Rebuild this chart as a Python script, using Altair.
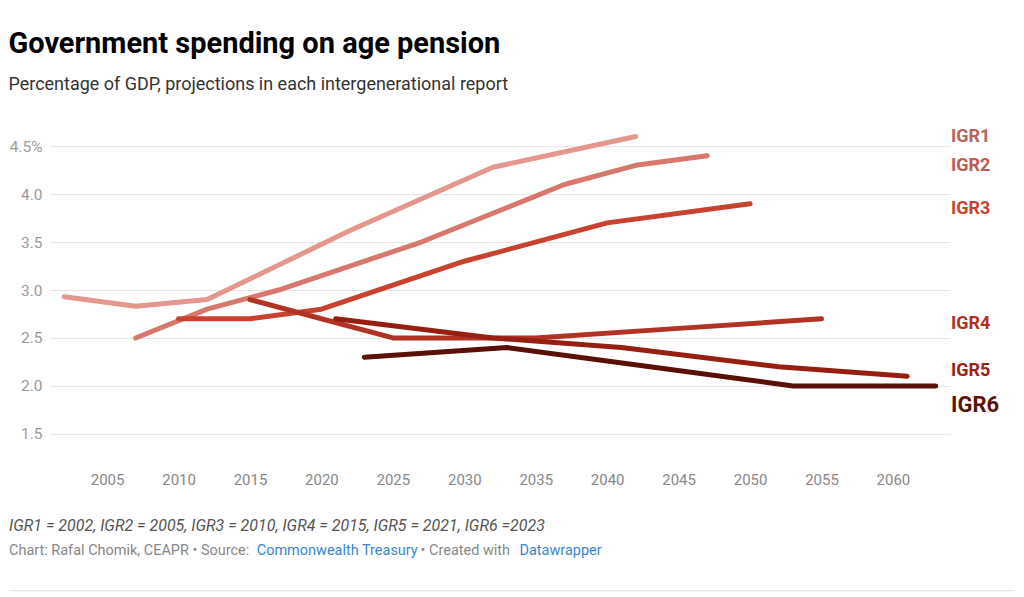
import altair as alt
import pandas as pd

# ---------------- data ----------------
series_names = ["IGR1", "IGR2", "IGR3", "IGR4", "IGR5", "IGR6"]

igr1_years = [2002, 2007, 2012, 2022, 2032, 2042]
igr1_vals = [2.93, 2.83, 2.90, 3.62, 4.28, 4.60]

igr2_years = [2007, 2012, 2015, 2017, 2027, 2037, 2042, 2047]
igr2_vals = [2.50, 2.80, 2.92, 3.00, 3.50, 4.10, 4.30, 4.40]

igr3_years = [2010, 2015, 2020, 2030, 2040, 2050]
igr3_vals = [2.70, 2.70, 2.80, 3.30, 3.70, 3.90]

igr4_years = [2015, 2020, 2025, 2035, 2045, 2055]
igr4_vals = [2.90, 2.70, 2.50, 2.50, 2.60, 2.70]

igr5_years = [2021, 2032, 2041, 2052, 2061]
igr5_vals = [2.70, 2.50, 2.40, 2.20, 2.10]

igr6_years = [2023, 2033, 2043, 2053, 2063]
igr6_vals = [2.30, 2.40, 2.20, 2.00, 2.00]

x_ticks = [2005, 2010, 2015, 2020, 2025, 2030, 2035, 2040, 2045, 2050, 2055, 2060]
y_ticks = [1.5, 2.0, 2.5, 3.0, 3.5, 4.0, 4.5]

title_text = "Government spending on age pension"
subtitle_text = "Percentage of GDP, projections in each intergenerational report"
note_text = "IGR1 = 2002, IGR2 = 2005, IGR3 = 2010, IGR4 = 2015, IGR5 = 2021, IGR6 =2023"
source_parts = ["Chart: Rafal Chomik, CEAPR \u2022 Source: ", "Commonwealth Treasury",
                " \u2022 Created with ", "Datawrapper"]

# ---------------- styles ----------------
line_colors = ["#e3978d", "#d8786c", "#c9412f", "#b23323", "#971f12", "#5a0f07"]
label_colors = ["#b5645e", "#bd5b52", "#c9412f", "#b03120", "#9a2214", "#5d1208"]
label_dy = [0, 10, 5, 5, -5, 19]
label_size = [18, 18, 18, 18, 18, 22]

all_years = [igr1_years, igr2_years, igr3_years, igr4_years, igr5_years, igr6_years]
all_vals = [igr1_vals, igr2_vals, igr3_vals, igr4_vals, igr5_vals, igr6_vals]

rows = []
for name, yrs, vals in zip(series_names, all_years, all_vals):
    for yr, v in zip(yrs, vals):
        rows.append({"series": name, "year": yr, "value": v})
df = pd.DataFrame(rows)

W, H = 901, 288
FONT = "Roboto"

x_scale = alt.Scale(domain=[2001, 2064], nice=False, zero=False)
y_scale = alt.Scale(domain=[1.5, 4.5], nice=False, zero=False)

lines = alt.Chart(df).mark_line(
    strokeWidth=5, strokeCap="round", strokeJoin="round"
).encode(
    x=alt.X("year:Q", scale=x_scale,
            axis=alt.Axis(values=x_ticks, format="d", grid=False, ticks=False, tickSize=0,
                          domain=False, labelColor="#888888", labelFontSize=15,
                          labelFont=FONT, labelPadding=39, title=None)),
    y=alt.Y("value:Q", scale=y_scale,
            axis=alt.Axis(values=y_ticks,
                          labelExpr="datum.value == 4.5 ? '4.5%' : format(datum.value, '.1f')",
                          grid=True, gridColor="#e4e4e4", gridWidth=1, ticks=False, tickSize=0,
                          domain=False, labelColor="#9a9a9a", labelFontSize=15.5,
                          labelFont=FONT, labelPadding=8, title=None)),
    color=alt.Color("series:N", scale=alt.Scale(domain=series_names, range=line_colors),
                    legend=None),
    detail="series:N",
)

layers = [lines]

for i, name in enumerate(series_names):
    lab_df = pd.DataFrame({"series": [name], "value": [all_vals[i][-1]]})
    layers.append(
        alt.Chart(lab_df).mark_text(
            align="left", baseline="middle", dy=label_dy[i], font=FONT,
            fontSize=label_size[i], fontWeight="bold", color=label_colors[i]
        ).encode(
            x=alt.value(W + 1),
            y=alt.Y("value:Q", scale=y_scale),
            text="series:N",
        )
    )

# footer note
layers.append(
    alt.Chart(pd.DataFrame({"t": [note_text]})).mark_text(
        align="left", baseline="middle", font=FONT, fontSize=16, fontStyle="italic",
        color="#555555"
    ).encode(x=alt.value(-41), y=alt.value(380), text="t:N")
)

src_x = [-41, 207, 371, 470]
src_col = ["#888888", "#3a85cf", "#888888", "#3a85cf"]
for part, xx, cc in zip(source_parts, src_x, src_col):
    layers.append(
        alt.Chart(pd.DataFrame({"t": [part]})).mark_text(
            align="left", baseline="middle", font=FONT, fontSize=14.5, color=cc
        ).encode(x=alt.value(xx), y=alt.value(405), text="t:N")
    )

layers.append(
    alt.Chart(pd.DataFrame({"a": [0]})).mark_rule(color="#dddddd", strokeWidth=1).encode(
        x=alt.value(-41), x2=alt.value(966), y=alt.value(445)
    )
)

chart = alt.layer(*layers).properties(
    width=W, height=H,
    padding={"left": 0, "top": 21, "right": 0, "bottom": 0},
    title=alt.TitleParams(
        text=title_text, subtitle=subtitle_text, anchor="start", frame="bounds",
        font=FONT, fontSize=29, fontWeight="bold", color="#000000",
        subtitleFont=FONT, subtitleFontSize=18, subtitleColor="#333333",
        subtitlePadding=17, offset=34,
    ),
    background="white",
).configure_view(stroke=None)

chart.save("out.html", embed_options={"renderer": "svg", "actions": False})
